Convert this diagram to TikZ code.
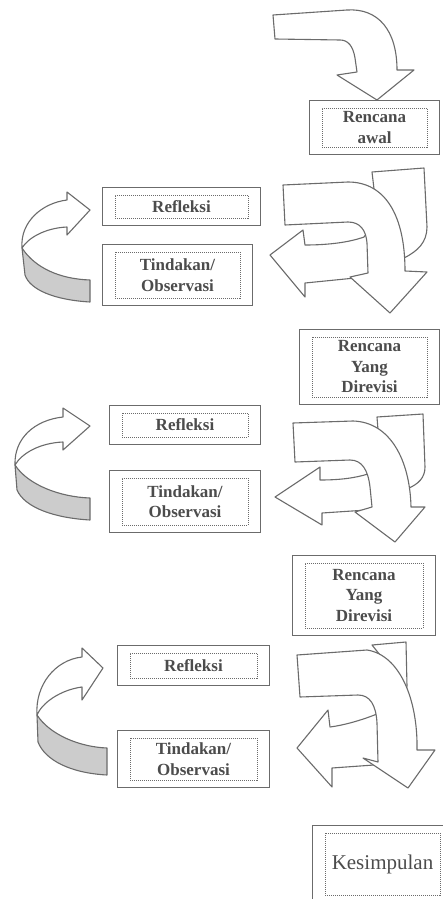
\documentclass[tikz,border=0pt]{standalone}
\usepackage{fontspec}
\setmainfont{Liberation Serif}
\usetikzlibrary{fit}
\definecolor{garis}{gray}{0.42}
\definecolor{abu}{gray}{0.8}
\definecolor{teks}{gray}{0.3}
\tikzset{
    panah/.style={draw=garis, fill=white, line width=1.1pt, line join=round},
    pita/.style={draw=garis, fill=abu, line width=1.1pt, line join=round},
    isi/.style={draw=garis, densely dotted, line width=1pt, inner sep=0pt, align=center,
        text=teks, font=\fontsize{17}{20.5}\selectfont\bfseries},
    luar/.style={draw=garis, line width=1.1pt, inner xsep=12pt, inner ysep=7pt}
}
\begin{document}
\begin{tikzpicture}[x=1pt,y=-1pt]
    \useasboundingbox (0,0) rectangle (443,899);
    % panah awal
    \draw[panah] (273,15) -- (347,10) .. controls (378,8) and (397,30) .. (397,70)
        -- (414,70) -- (377,100) -- (337,75) -- (357,72) -- (355,58)
        .. controls (353,46) and (348,40) .. (340,40) -- (275,39) -- cycle;
    \node[isi, minimum width=105pt, minimum height=39pt] (awal) at (374.5,127.5) {Rencana\\awal};
    \node[luar, fit=(awal)] (awalL) {};

    % siklus 1
    \draw[panah] (372,172) -- (424,168) -- (427,227) .. controls (427,242) and (418,251) .. (404,258)
        -- (385,285) -- (355,278) -- (305,283) -- (305,297) -- (270,255) -- (303,230) -- (305,245)
        .. controls (330,245) and (350,242) .. (364,237) -- (380,215) -- (374,189) -- cycle;
    \draw[panah] (283,185) -- (348,182) .. controls (385,182) and (405,215) .. (405,271)
        -- (427,272) -- (390,313) -- (350,277) -- (368,273) -- (367,243)
        .. controls (366,230) and (360,222) .. (348,222) -- (285,225) -- cycle;
    \draw[pita] (22,248) .. controls (35,268) and (60,279) .. (90,280) -- (90,302)
        .. controls (55,300) and (30,290) .. (25,275) -- cycle;
    \draw[panah] (22,248) .. controls (20,222) and (42,203) .. (67,200) -- (67,192) -- (90,210)
        -- (67,235) -- (67,227) .. controls (45,228) and (28,238) .. (22,248) -- cycle;
    \node[isi, minimum width=133pt, minimum height=23pt] (ref1) at (181.5,206.5) {Refleksi};
    \node[luar, fit=(ref1)] (ref1L) {};
    \node[isi, minimum width=125pt, minimum height=46pt] (tin1) at (177.5,275) {Tindakan/\\Observasi};
    \node[luar, fit=(tin1)] (tin1L) {};
    \node[isi, minimum width=115pt, minimum height=60pt] (rev1) at (369.5,367) {Rencana\\Yang\\Direvisi};
    \node[luar, fit=(rev1)] (rev1L) {};

    % siklus 2
    \draw[panah] (377,417) -- (423,414) -- (425,467) .. controls (425,478) and (418,484) .. (409,488)
        -- (395,520) -- (367,510) -- (322,513) -- (322,525) -- (275,497) -- (320,467) -- (320,480)
        .. controls (340,480) and (355,478) .. (368,474) -- (385,450) -- (378,430) -- cycle;
    \draw[panah] (293,423) -- (353,421) .. controls (390,422) and (410,460) .. (411,507)
        -- (425,507) -- (395,542) -- (355,512) -- (372,507) -- (370,487)
        .. controls (368,470) and (362,460) .. (350,460) -- (295,462) -- cycle;
    \draw[pita] (15,465) .. controls (28,485) and (60,497) .. (90,498) -- (90,520)
        .. controls (55,518) and (25,508) .. (17,490) -- cycle;
    \draw[panah] (15,465) .. controls (14,438) and (35,420) .. (63,417) -- (63,408) -- (90,426)
        -- (63,450) -- (63,442) .. controls (40,443) and (22,453) .. (15,465) -- cycle;
    \node[isi, minimum width=126pt, minimum height=24pt] (ref2) at (185,425) {Refleksi};
    \node[luar, fit=(ref2)] (ref2L) {};
    \node[isi, minimum width=126pt, minimum height=47pt] (tin2) at (185,501.5) {Tindakan/\\Observasi};
    \node[luar, fit=(tin2)] (tin2L) {};
    \node[isi, minimum width=118pt, minimum height=65pt] (rev2) at (364,595.5) {Rencana\\Yang\\Direvisi};
    \node[luar, fit=(rev2)] (rev2L) {};

    % siklus 3
    \draw[panah] (372,645) -- (406,642) -- (407,686) -- (400,720) -- (400,770) -- (374,765)
        -- (332,768) -- (332,787) -- (297,748) -- (328,710) -- (330,727)
        .. controls (345,725) and (362,720) .. (377,714) -- (390,700) -- (385,660) -- (380,655) -- cycle;
    \draw[panah] (297,655) -- (367,650) .. controls (400,655) and (418,700) .. (417,750)
        -- (435,750) -- (408,788) -- (363,758) -- (378,762) -- (377,723)
        .. controls (376,705) and (370,695) .. (358,695) -- (300,697) -- cycle;
    \draw[pita] (37,715) .. controls (50,735) and (80,747) .. (107,748) -- (107,775)
        .. controls (70,773) and (45,760) .. (38,742) -- cycle;
    \draw[panah] (37,715) .. controls (35,685) and (55,660) .. (82,657) -- (82,648) -- (103,668)
        -- (82,700) -- (82,687) .. controls (60,690) and (42,703) .. (37,715) -- cycle;
    \node[isi, minimum width=127pt, minimum height=25pt] (ref3) at (193.5,665.5) {Refleksi};
    \node[luar, fit=(ref3)] (ref3L) {};
    \node[isi, minimum width=127pt, minimum height=42pt] (tin3) at (193.5,759) {Tindakan/\\Observasi};
    \node[luar, fit=(tin3)] (tin3L) {};

    \node[isi, minimum width=115pt, minimum height=62pt, font=\fontsize{21}{24}\selectfont] (kes) at (382.5,864) {Kesimpulan};
    \node[luar, fit=(kes)] (kesL) {};
\end{tikzpicture}
\end{document}
